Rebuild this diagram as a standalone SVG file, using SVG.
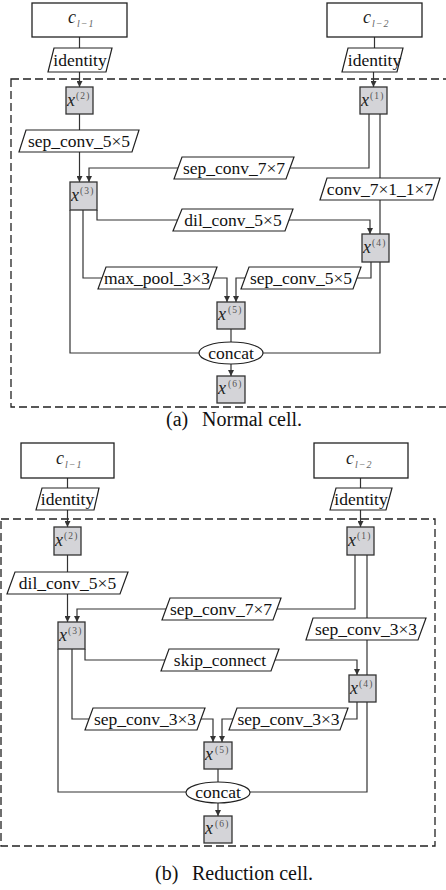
<svg xmlns="http://www.w3.org/2000/svg" width="446" height="890" viewBox="0 0 446 890">
<style>
.bg{fill:#fff}
.in{fill:#fff;stroke:#222;stroke-width:1.3}
.op{fill:#fff;stroke:#222;stroke-width:1.2}
.nd{fill:#d4d4d8;stroke:#333;stroke-width:1.3}
.ln{fill:none;stroke:#333;stroke-width:1.2}
.dash{fill:none;stroke:#222;stroke-width:1.3;stroke-dasharray:8,4}
.t{font-family:"Liberation Serif",serif;font-size:17.5px;fill:#111;text-anchor:middle}
.xv{font-family:"Liberation Serif",serif;font-style:italic;font-size:18px;fill:#222}
.sup{font-family:"Liberation Serif",serif;font-size:9.5px;fill:#555;letter-spacing:1.2px}
.sub{font-family:"Liberation Serif",serif;font-style:italic;font-size:10px;fill:#666;letter-spacing:1px}
.cap{font-family:"Liberation Serif",serif;font-size:20px;fill:#111}
</style>
<defs>
<marker id="ah" viewBox="0 0 8 8" refX="8" refY="4" markerWidth="7" markerHeight="6" orient="auto" markerUnits="userSpaceOnUse"><path d="M0,0 L8,4 L0,8 z" fill="#333"/></marker>
</defs>
<rect class="bg" x="0" y="0" width="446" height="890"/>

<!-- ===== Part (a) ===== -->
<rect class="dash" x="11" y="79" width="450" height="328"/>
<g id="a-connectors">
<line class="ln" x1="79.5" y1="37" x2="79.5" y2="48"/>
<line class="ln" x1="79.5" y1="72" x2="79.5" y2="87" marker-end="url(#ah)"/>
<line class="ln" x1="374.5" y1="37" x2="374.5" y2="48"/>
<line class="ln" x1="373.5" y1="72" x2="373.5" y2="87" marker-end="url(#ah)"/>
<line class="ln" x1="79.5" y1="114" x2="79.5" y2="130"/>
<line class="ln" x1="79.5" y1="152" x2="79.5" y2="182" marker-end="url(#ah)"/>
<polyline class="ln" points="369,114 369,168 290,168"/>
<polyline class="ln" points="178,168 89,168 89,182" marker-end="url(#ah)"/>
<line class="ln" x1="380" y1="114" x2="380" y2="178"/>
<line class="ln" x1="380" y1="200" x2="380" y2="234"/>
<polyline class="ln" points="97,210 97,220 177,220"/>
<polyline class="ln" points="289,220 370,220 370,234" marker-end="url(#ah)"/>
<polyline class="ln" points="83,210 83,278 102,278"/>
<polyline class="ln" points="213,278 227,278 227,302" marker-end="url(#ah)"/>
<polyline class="ln" points="371,262 371,278 357,278"/>
<polyline class="ln" points="245,278 236,278 236,302" marker-end="url(#ah)"/>
<line class="ln" x1="231" y1="329" x2="231" y2="342"/>
<polyline class="ln" points="70,210 70,353 199,353"/>
<polyline class="ln" points="380,262 380,353 263,353"/>
<line class="ln" x1="231" y1="364" x2="231" y2="376" marker-end="url(#ah)"/>
</g>
<g id="a-c1"><rect class="in" x="32" y="3" width="95" height="34"/><text class="xv" x="68" y="23">c</text><text class="sub" x="77" y="27">l−1</text></g>
<g id="a-c2"><rect class="in" x="327" y="3" width="95" height="34"/><text class="xv" x="363" y="23">c</text><text class="sub" x="372" y="27">l−2</text></g>
<g id="a-id1"><polygon class="op" points="54,48 112,48 106,72 48,72"/><text class="t" x="80" y="66">identity</text></g>
<g id="a-id2"><polygon class="op" points="348,48 403,48 397,72 342,72"/><text class="t" x="374.5" y="66">identity</text></g>
<g id="a-x2"><rect class="nd" x="66" y="87" width="27" height="27"/><text class="xv" x="67" y="106">x</text><text class="sup" x="76" y="99">(2)</text></g>
<g id="a-x1"><rect class="nd" x="360" y="87" width="27" height="27"/><text class="xv" x="361" y="106">x</text><text class="sup" x="370" y="99">(1)</text></g>
<g id="a-op1"><polygon class="op" points="26,130 139,130 132,152 19,152"/><text class="t" x="79" y="147">sep_conv_5×5</text></g>
<g id="a-op2"><polygon class="op" points="182,157 294,157 286,179 174,179"/><text class="t" x="234" y="174">sep_conv_7×7</text></g>
<g id="a-op3"><polygon class="op" points="327,178 440,178 433,200 320,200"/><text class="t" x="380" y="195">conv_7×1_1×7</text></g>
<g id="a-x3"><rect class="nd" x="70" y="182" width="27" height="28"/><text class="xv" x="71" y="201">x</text><text class="sup" x="80" y="194">(3)</text></g>
<g id="a-op4"><polygon class="op" points="182,209 293,209 285,231 173,231"/><text class="t" x="233" y="226">dil_conv_5×5</text></g>
<g id="a-x4"><rect class="nd" x="362" y="234" width="27" height="28"/><text class="xv" x="363" y="253">x</text><text class="sup" x="372" y="246">(4)</text></g>
<g id="a-op5"><polygon class="op" points="106,267 217,267 209,289 98,289"/><text class="t" x="157" y="284">max_pool_3×3</text></g>
<g id="a-op6"><polygon class="op" points="249,267 361,267 353,289 241,289"/><text class="t" x="301" y="284">sep_conv_5×5</text></g>
<g id="a-x5"><rect class="nd" x="217" y="302" width="28" height="27"/><text class="xv" x="218" y="320">x</text><text class="sup" x="228" y="313">(5)</text></g>
<g id="a-concat"><ellipse class="op" cx="231" cy="353" rx="32" ry="11"/><text class="t" x="231" y="359">concat</text></g>
<g id="a-x6"><rect class="nd" x="217" y="376" width="28" height="27"/><text class="xv" x="218" y="394">x</text><text class="sup" x="228" y="387">(6)</text></g>
<text class="cap" x="166" y="426">(a)</text>
<text class="cap" x="302" y="426" text-anchor="end">Normal cell.</text>

<!-- ===== Part (b) ===== -->
<rect class="dash" x="1" y="519" width="434" height="327"/>
<g id="b-connectors">
<line class="ln" x1="67.5" y1="478" x2="67.5" y2="488"/>
<line class="ln" x1="67.5" y1="510" x2="67.5" y2="527" marker-end="url(#ah)"/>
<line class="ln" x1="360.5" y1="478" x2="360.5" y2="488"/>
<line class="ln" x1="360.5" y1="510" x2="360.5" y2="527" marker-end="url(#ah)"/>
<line class="ln" x1="67.5" y1="555" x2="67.5" y2="572"/>
<line class="ln" x1="67.5" y1="594" x2="67.5" y2="622" marker-end="url(#ah)"/>
<polyline class="ln" points="355,555 355,609 277,609"/>
<polyline class="ln" points="166,609 77,609 77,622" marker-end="url(#ah)"/>
<line class="ln" x1="367" y1="555" x2="367" y2="618"/>
<line class="ln" x1="367" y1="640" x2="367" y2="675"/>
<polyline class="ln" points="85,649 85,660 165,660"/>
<polyline class="ln" points="275,660 357,660 357,675" marker-end="url(#ah)"/>
<polyline class="ln" points="72,649 72,719 89,719"/>
<polyline class="ln" points="201,719 213,719 213,742" marker-end="url(#ah)"/>
<polyline class="ln" points="357,702 357,719 344,719"/>
<polyline class="ln" points="233,719 222,719 222,742" marker-end="url(#ah)"/>
<line class="ln" x1="218" y1="769" x2="218" y2="782"/>
<polyline class="ln" points="58,649 58,792 186,792"/>
<polyline class="ln" points="367,702 367,792 250,792"/>
<line class="ln" x1="218" y1="803" x2="218" y2="816" marker-end="url(#ah)"/>
</g>
<g id="b-c1"><rect class="in" x="21" y="443" width="93" height="35"/><text class="xv" x="56" y="464">c</text><text class="sub" x="65" y="468">l−1</text></g>
<g id="b-c2"><rect class="in" x="314" y="443" width="94" height="35"/><text class="xv" x="346" y="464">c</text><text class="sub" x="355" y="468">l−2</text></g>
<g id="b-id1"><polygon class="op" points="42,488 99,488 94,510 36,510"/><text class="t" x="67.5" y="505">identity</text></g>
<g id="b-id2"><polygon class="op" points="336,488 392,488 386,510 330,510"/><text class="t" x="361" y="505">identity</text></g>
<g id="b-x2"><rect class="nd" x="54" y="527" width="27" height="28"/><text class="xv" x="55" y="546">x</text><text class="sup" x="64" y="539">(2)</text></g>
<g id="b-x1"><rect class="nd" x="347" y="527" width="27" height="28"/><text class="xv" x="348" y="546">x</text><text class="sup" x="357" y="539">(1)</text></g>
<g id="b-op1"><polygon class="op" points="15,572 128,572 120,594 7,594"/><text class="t" x="67.5" y="589">dil_conv_5×5</text></g>
<g id="b-op2"><polygon class="op" points="170,598 281,598 273,620 162,620"/><text class="t" x="221" y="615">sep_conv_7×7</text></g>
<g id="b-op3"><polygon class="op" points="313,618 426,618 418,640 306,640"/><text class="t" x="366" y="635">sep_conv_3×3</text></g>
<g id="b-x3"><rect class="nd" x="58" y="622" width="27" height="27"/><text class="xv" x="59" y="641">x</text><text class="sup" x="68" y="634">(3)</text></g>
<g id="b-op4"><polygon class="op" points="169,649 279,649 271,671 161,671"/><text class="t" x="220" y="666">skip_connect</text></g>
<g id="b-x4"><rect class="nd" x="349" y="675" width="27" height="27"/><text class="xv" x="350" y="694">x</text><text class="sup" x="359" y="687">(4)</text></g>
<g id="b-op5"><polygon class="op" points="93,708 205,708 197,730 85,730"/><text class="t" x="145" y="725">sep_conv_3×3</text></g>
<g id="b-op6"><polygon class="op" points="237,708 348,708 340,730 229,730"/><text class="t" x="288.5" y="725">sep_conv_3×3</text></g>
<g id="b-x5"><rect class="nd" x="204" y="742" width="28" height="27"/><text class="xv" x="205" y="760">x</text><text class="sup" x="215" y="753">(5)</text></g>
<g id="b-concat"><ellipse class="op" cx="218" cy="792.5" rx="32" ry="10.5"/><text class="t" x="218" y="798">concat</text></g>
<g id="b-x6"><rect class="nd" x="204" y="816" width="28" height="27"/><text class="xv" x="205" y="834">x</text><text class="sup" x="215" y="827">(6)</text></g>
<text class="cap" x="155" y="880">(b)</text>
<text class="cap" x="313" y="880" text-anchor="end">Reduction cell.</text>
</svg>
